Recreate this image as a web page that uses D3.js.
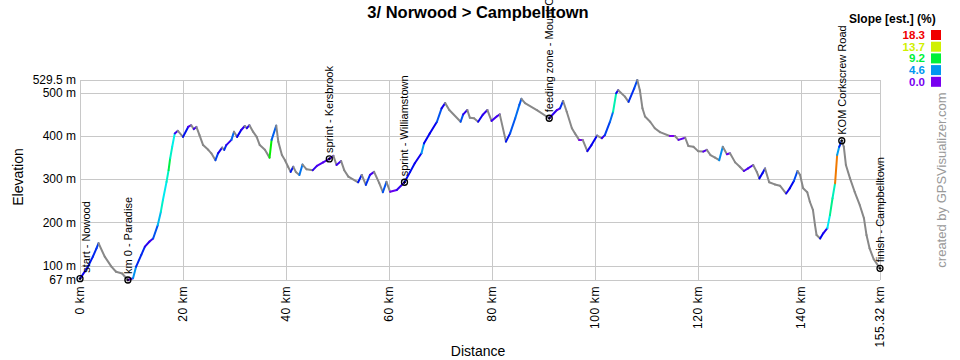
<!DOCTYPE html>
<html>
<head>
<meta charset="utf-8">
<script src="https://cdn.jsdelivr.net/npm/d3@7"></script>
<style>
  html, body { margin: 0; padding: 0; background: #fff; }
  svg { display: block; font-family: "Liberation Sans", Arial, sans-serif; }
</style>
</head>
<body>
<svg id="chart" width="960" height="360"></svg>
<script>
// ---- data ----
const title = "3/ Norwood > Campbelltown";
const distanceKm = [0.0,1.55,2.5,3.2,3.6,4.8,6.1,7.0,8.2,8.7,9.3,10.3,10.9,11.9,12.6,13.5,14.2,15.1,15.7,16.1,16.8,17.2,17.5,17.9,18.4,19.0,20.0,21.0,21.6,22.1,22.6,23.2,23.9,24.9,25.5,26.3,26.8,27.6,28.0,28.4,29.4,29.9,30.5,31.3,32.0,32.4,32.9,33.6,34.3,34.9,35.9,36.8,37.2,38.1,38.5,39.2,39.8,40.4,40.9,41.4,41.9,42.6,43.2,44.0,45.2,46.0,47.2,48.4,49.2,49.8,50.7,51.3,52.1,54.0,54.7,55.5,56.3,57.1,58.1,58.8,59.5,60.2,61.5,63.0,64.1,65.0,66.3,66.8,67.9,69.3,70.2,70.9,71.7,73.9,74.4,75.2,75.7,76.5,77.3,78.2,79.1,79.9,80.9,81.5,82.7,83.5,84.5,85.3,85.7,86.4,88.7,90.6,91.1,92.6,93.2,93.8,94.5,95.5,96.1,96.9,97.6,98.5,99.3,100.4,101.3,101.9,102.9,103.5,104.1,104.5,105.8,106.5,107.6,108.2,108.7,109.2,109.7,110.7,111.6,112.6,114.5,115.5,116.2,117.5,118.1,119.1,120.0,121.0,121.7,122.4,123.3,124.1,124.8,125.6,126.2,127.2,128.1,128.9,129.7,130.7,131.4,131.9,132.5,133.0,133.8,134.9,135.9,137.1,137.8,138.6,139.3,139.8,140.4,141.2,141.7,142.3,142.7,143.0,143.7,144.3,145.1,145.6,146.1,146.6,147.0,147.4,147.9,148.3,148.7,149.5,150.4,151.4,152.2,152.7,153.3,154.1,155.32];
const elevationM = [70,98,121,140,152,121,98,86,82,75,67,71,98,125,144,156,163,194,225,252,294,321,348,375,406,412,398,421,425,416,421,402,379,368,360,344,360,373,368,379,391,410,398,414,423,418,425,410,398,379,368,350,391,424,387,356,344,329,317,329,317,310,334,323,321,331,339,347,354,333,342,321,306,293,310,287,310,317,291,270,294,271,275,293,317,337,360,383,406,433,464,476,460,433,450,460,442,441,433,449,460,435,445,450,387,406,441,472,486,476,460,445,441,460,464,481,456,418,406,391,391,365,379,401,395,402,433,456,499,506,491,479,510,529.5,506,464,445,433,418,409,400,400,391,396,377,375,365,364,368,356,350,344,375,358,360,339,329,319,325,333,317,302,314,325,293,288,285,267,279,296,319,310,279,270,248,229,194,171,163,175,187,217,256,291,356,375,389,375,333,302,271,240,210,171,140,115,94];

const waypointNames = ["start - Nowood","km 0 - Paradise","sprint - Kersbrook","sprint - Williamstown","feeding zone - Mount Crawford","KOM Corkscrew Road","finish - Campbelltown"];
const waypointKm = [0.0, 9.3, 48.4, 63.0, 91.1, 147.9, 155.32];
const waypointElev = [70, 67, 347, 293, 441, 389, 94];

const xTickValues = [0,20,40,60,80,100,120,140,155.32];
const xTickLabels = ["0 km","20 km","40 km","60 km","80 km","100 km","120 km","140 km","155.32 km"];
const yTickValues = [67,100,200,300,400,500,529.5];
const yTickLabels = ["67 m","100 m","200 m","300 m","400 m","500 m","529.5 m"];

const legendTitle = "Slope [est.] (%)";
const legendValues = [18.3, 13.7, 9.2, 4.6, 0.0];

// ---- layout ----
const svg = d3.select("#chart");
const L = 80, T = 80, W = 800, H = 200;
const x = d3.scaleLinear().domain([0, 155.32]).range([L, L + W]);
const y = d3.scaleLinear().domain([67, 529.5]).range([T + H, T]);
const slopeMax = 18.3;
const slopeColor = s => d3.hsl(270 - 270 * Math.min(Math.max(s, 0), slopeMax) / slopeMax, 1, 0.47).formatHex();

// title
svg.append("text").attr("x", 478).attr("y", 18).attr("text-anchor", "middle")
  .attr("font-size", 16.5).attr("font-weight", "bold").attr("fill", "#000").text(title);

// grid
const grid = svg.append("g").attr("stroke", "#c8c8c8").attr("stroke-width", 1).attr("shape-rendering", "crispEdges");
yTickValues.forEach(v => grid.append("line").attr("x1", L).attr("x2", L + W).attr("y1", Math.round(y(v)) + 0.5).attr("y2", Math.round(y(v)) + 0.5));
xTickValues.forEach(v => grid.append("line").attr("y1", T).attr("y2", T + H).attr("x1", Math.round(x(v)) + 0.5).attr("x2", Math.round(x(v)) + 0.5));

// y labels
const yl = svg.append("g").attr("font-size", 12).attr("fill", "#000");
yTickValues.forEach((v, i) => yl.append("text").attr("x", 76).attr("y", y(v)).attr("dy", "0.35em")
  .attr("text-anchor", "end").text(yTickLabels[i]));

// x labels
const xl = svg.append("g").attr("font-size", 12).attr("fill", "#000").attr("letter-spacing", "0.6px");
xTickValues.forEach((v, i) => xl.append("text")
  .attr("transform", `translate(${x(v)},${T + H + 6}) rotate(-90)`)
  .attr("dy", "0.35em").attr("text-anchor", "end").text(xTickLabels[i]));

// axis titles
svg.append("text").attr("transform", "translate(18,177) rotate(-90)").attr("text-anchor", "middle")
  .attr("dy", "0.35em").attr("font-size", 14).text("Elevation");
svg.append("text").attr("x", 478).attr("y", 356).attr("text-anchor", "middle")
  .attr("font-size", 14).text("Distance");

// profile segments coloured by slope
const prof = svg.append("g").attr("stroke-width", 2).attr("stroke-linecap", "round");
for (let i = 0; i < distanceKm.length - 1; i++) {
  const dk = distanceKm[i + 1] - distanceKm[i];
  const de = elevationM[i + 1] - elevationM[i];
  const slope = de / (dk * 1000) * 100;
  prof.append("line")
    .attr("x1", x(distanceKm[i])).attr("y1", y(elevationM[i]))
    .attr("x2", x(distanceKm[i + 1])).attr("y2", y(elevationM[i + 1]))
    .attr("stroke", slope < 0 ? "#888888" : slopeColor(slope));
}

// waypoints
const wp = svg.append("g");
waypointNames.forEach((name, i) => {
  const cx = x(waypointKm[i]), cy = y(waypointElev[i]);
  wp.append("circle").attr("cx", cx).attr("cy", cy).attr("r", 3)
    .attr("fill", "none").attr("stroke", "#000").attr("stroke-width", 1.3);
  wp.append("path").attr("d", `M${cx - 1.5},${cy}H${cx + 1.5}M${cx},${cy - 1.5}V${cy + 1.5}`)
    .attr("stroke", "#000").attr("stroke-width", 1);
  const dx = i === 0 ? 6 : 0;
  wp.append("text").attr("transform", `translate(${cx + dx},${cy - 6}) rotate(-90)`)
    .attr("dy", "0.35em").attr("font-size", 11).attr("fill", "#000").text(name);
});

// legend
const lg = svg.append("g");
lg.append("text").attr("x", 849).attr("y", 23).attr("font-size", 12).attr("font-weight", "bold").text(legendTitle);
legendValues.forEach((v, i) => {
  const cy = 35 + i * 11.7;
  lg.append("text").attr("x", 925).attr("y", cy).attr("dy", "0.35em").attr("text-anchor", "end")
    .attr("font-size", 11.5).attr("font-weight", "bold").attr("fill", slopeColor(v)).text(v.toFixed(1));
  lg.append("rect").attr("x", 931).attr("y", cy - 5).attr("width", 10).attr("height", 10).attr("fill", slopeColor(v));
});

// watermark
svg.append("text").attr("transform", "translate(941,180) rotate(-90)").attr("text-anchor", "middle")
  .attr("dy", "0.35em").attr("font-size", 13).attr("fill", "#999").text("created by GPSVisualizer.com");
</script>
</body>
</html>
